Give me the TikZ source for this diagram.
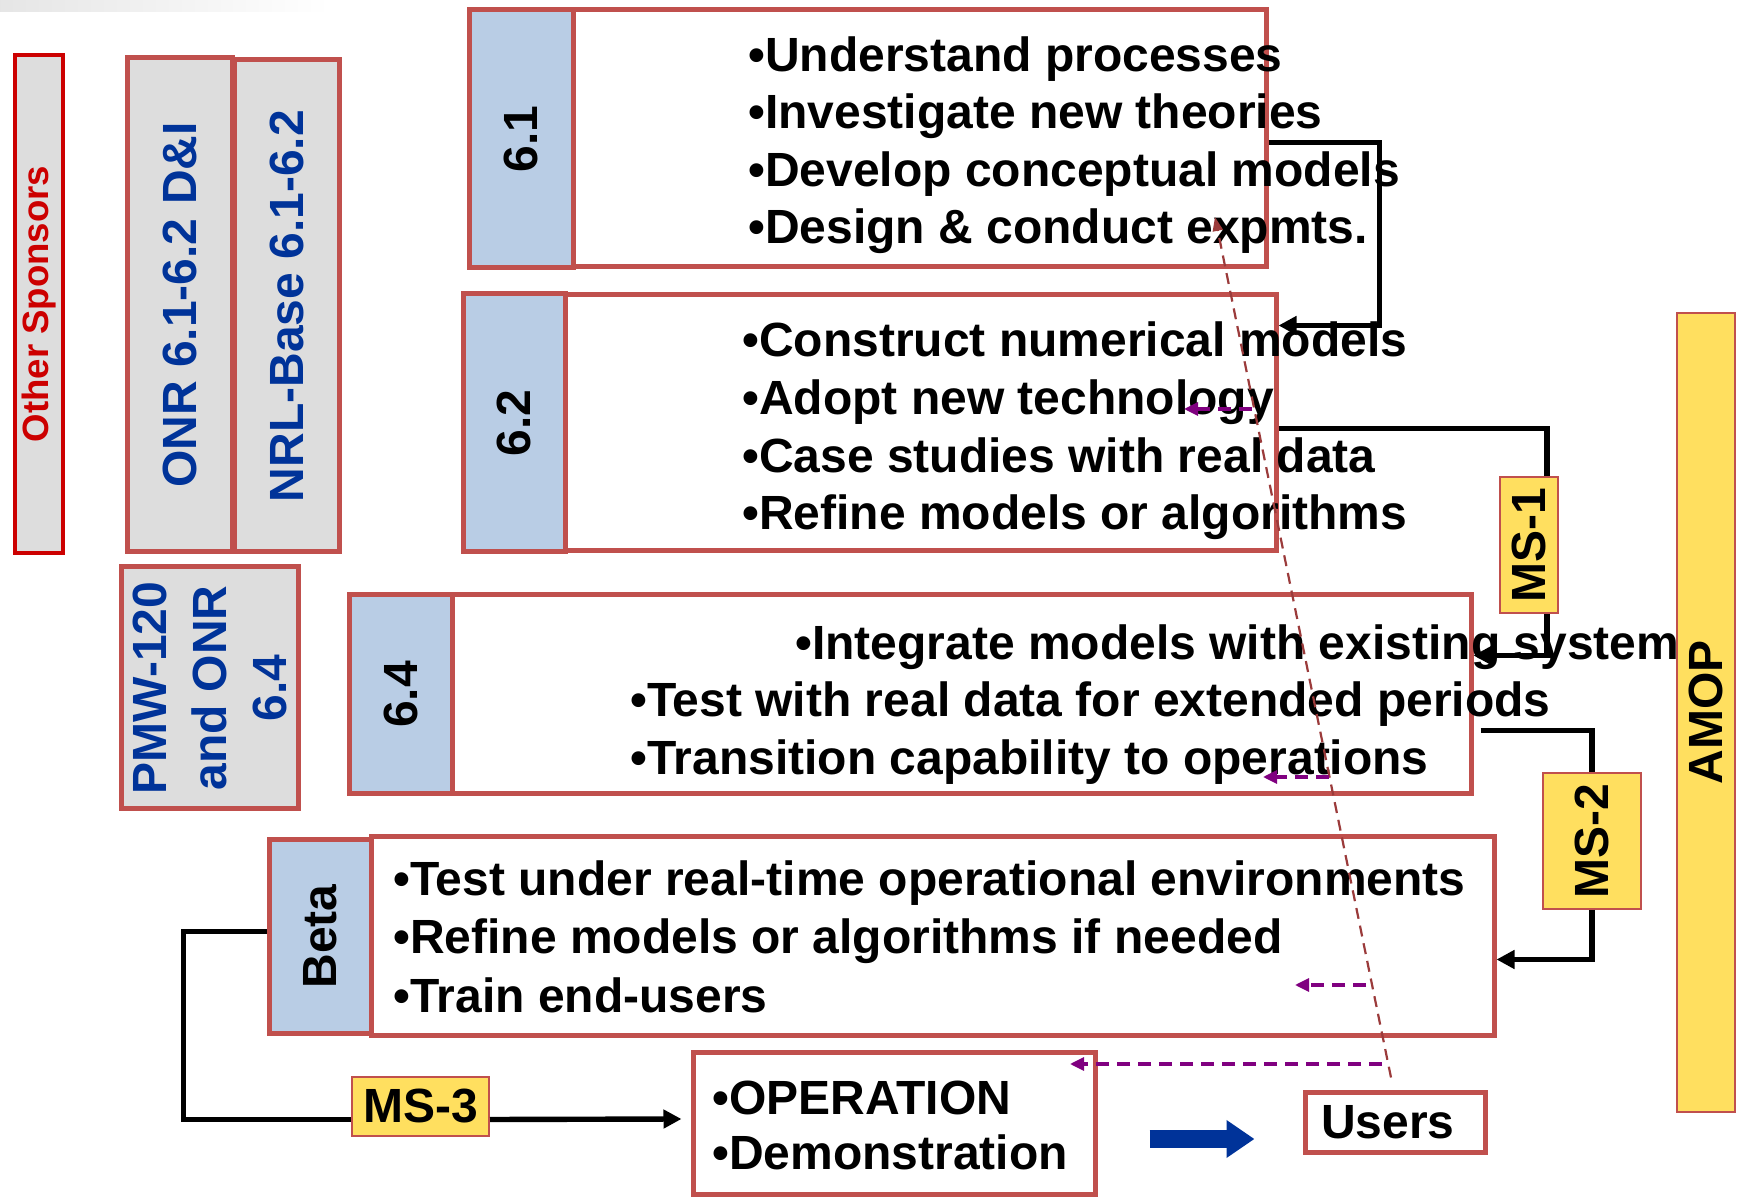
\documentclass[tikz,border=0pt]{standalone}
\usepackage{fontspec}
\setmainfont{Liberation Sans}
\usetikzlibrary{arrows.meta,fit,calc}
\definecolor{boxred}{HTML}{C0504D}
\definecolor{lblue}{HTML}{B9CDE5}
\definecolor{lgray}{HTML}{DDDDDD}
\definecolor{yel}{HTML}{FFDF5F}
\definecolor{navy}{HTML}{003399}
\definecolor{osred}{HTML}{CC0000}
\definecolor{purp}{HTML}{800080}
\definecolor{fbred}{HTML}{9B3B3B}
\newcommand\fs{\fontsize{24pt}{30pt}\selectfont\bfseries}
\newcommand\fss{\fontsize{18.3pt}{22pt}\selectfont\bfseries}
\begin{document}
\begin{tikzpicture}[x=0.5pt,y=-0.5pt,
 box/.style={draw=boxred, line width=2.5pt, inner sep=0pt, fill=white},
 lbox/.style={box, fill=lblue},
 gbox/.style={box, fill=lgray},
 msbox/.style={draw=boxred, line width=1pt, fill=yel, inner sep=0pt},
 txt/.style={font=\fs, anchor=base west, inner sep=0pt},
 rtxt/.style={font=\fs, rotate=90, inner sep=0pt},
 conn/.style={draw=black, line width=2.7pt},
 arr/.style={-{Triangle[length=9pt,width=9pt]}},
 feed/.style={draw=fbred, line width=1.1pt, dash pattern=on 5.5pt off 3.5pt, -{Triangle[length=7pt,width=5pt]}},
 pfeed/.style={draw=purp, line width=1.6pt, dash pattern=on 6.5pt off 4pt, -{Triangle[length=7pt,width=6.5pt]}},
 barrow/.style={draw=navy, line width=9pt, -{Triangle[length=14pt,width=18pt]}}
]
\useasboundingbox (0,0) rectangle (1742,1197);
\shade[left color=black!10, right color=white] (0,0) rectangle (330,12);

% sponsor boxes
\node[box, draw=osred, line width=2.3pt, fill=lgray, fit={(15,55) (63,553)}] (os) {};
\node[gbox, fit={(127,58) (232,552)}] (onr) {};
\node[gbox, fit={(234,60) (339,552)}] (nrl) {};
\node[gbox, fit={(121,567) (298,809)}] (pmw) {};

% stage boxes
\node[lbox, fit={(469,10) (573,268)}] (b61L) {};
\node[box, fit={(573,10) (1266,267)}] (b61) {};
\node[lbox, fit={(463,294) (565,552)}] (b62L) {};
\node[box, fit={(565,295) (1276,551)}] (b62) {};
\node[lbox, fit={(349,595) (452,794)}] (b64L) {};
\node[box, fit={(452,595) (1471,794)}] (b64) {};
\node[lbox, fit={(269,840) (371,1033)}] (betaL) {};
\node[box, fit={(371,837) (1494,1035)}] (beta) {};
\node[box, fit={(693,1052) (1095,1194)}] (op) {};
\node[box, fit={(1305,1092) (1485,1152)}] (users) {};

% milestone boxes
\node[msbox, fit={(1500,477) (1558,613)}] (ms1) {};
\node[msbox, fit={(1543,773) (1641,909)}] (ms2) {};
\node[msbox, fit={(352,1077) (489,1136)}] (ms3) {};
\node[msbox, fit={(1677,313) (1735,1112)}] (amop) {};

% rotated labels
\node[font=\fss, rotate=90, inner sep=0pt, text=osred] at (os.center) {Other Sponsors};
\node[rtxt, text=navy] at (onr.center) {ONR 6.1-6.2 D\&I};
\node[rtxt, text=navy] at (nrl.center) {NRL-Base 6.1-6.2};
\node[rtxt, text=navy, align=center] at (pmw.center) {PMW-120\\and ONR\\6.4};
\node[rtxt] at (b61L.center) {6.1};
\node[rtxt] at (b62L.center) {6.2};
\node[rtxt] at (b64L.center) {6.4};
\node[rtxt] at (betaL.center) {Beta};
\node[rtxt] at (ms1.center) {MS-1};
\node[rtxt] at (ms2.center) {MS-2};
\node[rtxt] at (amop.center) {AMOP};
\node[font=\fs, inner sep=0pt] at (ms3.center) {MS-3};
\node[font=\fs, inner sep=0pt] at ($(users.center)+(-7,0)$) {Users};

% texts
\node[txt] at (748,72) {•Understand processes};
\node[txt] at (748,129) {•Investigate new theories};
\node[txt] at (748,187) {•Develop conceptual models};
\node[txt] at (748,244) {•Design \& conduct expmts.};

\node[txt] at (742,357) {•Construct numerical models};
\node[txt] at (742,415) {•Adopt new technology};
\node[txt] at (742,473) {•Case studies with real data};
\node[txt] at (742,530) {•Refine models or algorithms};

\node[txt] at (795,660) {•Integrate models with existing system};
\node[txt] at (630,717) {•Test with real data for extended periods};
\node[txt] at (630,775) {•Transition capability to operations};

\node[txt] at (393,896) {•Test under real-time operational environments};
\node[txt] at (393,954) {•Refine models or algorithms if needed};
\node[txt] at (393,1012) {•Train end-users};

\node[txt] at (712,1114) {•OPERATION};
\node[txt] at (712,1169) {•Demonstration};

% connectors
\draw[conn,arr] ($(b61.north east)+(0,135)$) -- ++(111,0) |- ($(b62.north east)+(0,33)$);
\draw[conn] ($(b62.north east)+(0,136)$) -| ($(ms1.north)+(18,0)$);
\draw[conn,arr] ($(ms1.south)+(18,0)$) |- ($(b64.north east)+(0,63)$);
\draw[conn] ($(b64.north east)+(7,138)$) -| (ms2.north);
\draw[conn,arr] (ms2.south) |- ($(beta.north east)+(0,125)$);
\draw[conn] ($(betaL.north west)+(0,94)$) -- ++(-83,0) |- ($(ms3.west)+(0,13)$);
\draw[conn,arr] ($(ms3.east)+(0,13)$) -- ($(op.west)+(-9,-4)$);

% big blue arrow
\draw[barrow] ($(op.east)+(52,16)$) -- ($(users.west)+(-48,17)$);

% feedback lines
\coordinate (fbtip) at (1215,217);
\draw[feed] ($(users.north)+(-4,-12)$) -- (fbtip);
\coordinate (p1s) at (1252,409); \coordinate (p1e) at (1184,409);
\coordinate (p2s) at (1329,777); \coordinate (p2e) at (1263,777);
\coordinate (p3s) at (1366,985); \coordinate (p3e) at (1295,985);
\coordinate (p4s) at (1382,1064); \coordinate (p4e) at (1070,1064);
\draw[pfeed] (p1s) -- (p1e);
\draw[pfeed] (p2s) -- (p2e);
\draw[pfeed] (p3s) -- (p3e);
\draw[pfeed] (p4s) -- (p4e);
\end{tikzpicture}
\end{document}
